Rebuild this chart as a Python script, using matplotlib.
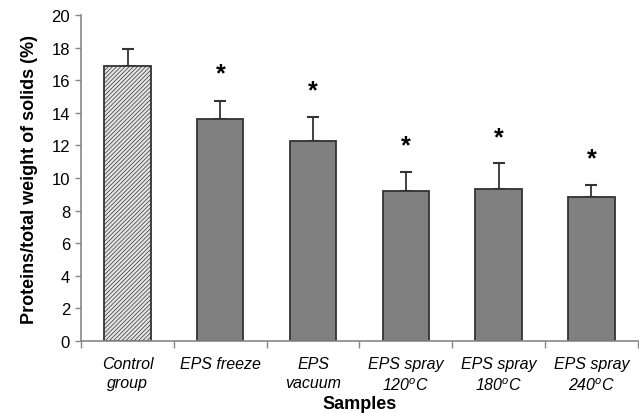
import matplotlib
matplotlib.use("Agg")
import matplotlib.pyplot as plt
import numpy as np

plt.rcParams['font.family'] = ['Liberation Sans', 'DejaVu Sans']
plt.rcParams['mathtext.fontset'] = 'custom'
plt.rcParams['mathtext.it'] = 'Liberation Sans:italic'
plt.rcParams['mathtext.rm'] = 'Liberation Sans:italic'
plt.rcParams['hatch.color'] = '#a8a8a8'
plt.rcParams['hatch.linewidth'] = 0.5

categories = ['Control\ngroup', 'EPS freeze', 'EPS\nvacuum',
              'EPS spray\n120$^{o}$C', 'EPS spray\n180$^{o}$C', 'EPS spray\n240$^{o}$C']
values = [16.9, 13.65, 12.25, 9.2, 9.3, 8.85]
errors = [1.0, 1.05, 1.5, 1.15, 1.65, 0.7]
significant = [False, True, True, True, True, True]
star_y = [None, 16.4, 15.4, 12.0, 12.5, 11.2]

fig = plt.figure(figsize=(6.39, 4.14), dpi=100)
ax = fig.add_axes([0.127, 0.174, 0.871, 0.787])

x = np.arange(len(categories))
colors = ['#e4e4e4'] + ['#808080'] * 5
bars = ax.bar(x, values, width=0.5, color=colors, edgecolor='#333333', linewidth=1.3, zorder=2)
bars[0].set_hatch('////////')
ax.errorbar(x, values, yerr=[[0]*len(values), errors], fmt='none', ecolor='#333333',
            elinewidth=1.3, capsize=4, capthick=1.5, zorder=1)

for xi, s, sy in zip(x, significant, star_y):
    if s:
        ax.text(xi, sy, '*', ha='center', va='center', fontsize=18, fontweight='bold')

ax.set_xlim(-0.5, 5.5)
ax.set_ylim(0, 20)
ax.set_yticks(np.arange(0, 21, 2))
ax.set_xticks(x)
ax.set_xticklabels(categories, fontstyle='italic', fontsize=11.5, linespacing=1.35)
ax.tick_params(axis='x', length=0, pad=11)
ax.set_xticks(np.arange(-0.5, 6, 1), minor=True)
ax.tick_params(axis='x', which='minor', length=5, color='#888888', width=1)
ax.tick_params(axis='y', labelsize=12, length=4, color='#888888', width=1, pad=4)

for sp in ['top', 'right']:
    ax.spines[sp].set_visible(False)
for sp in ['left', 'bottom']:
    ax.spines[sp].set_color('#888888')
    ax.spines[sp].set_linewidth(1.2)

ax.set_ylabel('Proteins/total weight of solids (%)', fontsize=13, fontweight='bold', labelpad=10)
ax.set_xlabel('Samples', fontsize=13, fontweight='bold', labelpad=2)

fig.savefig('out.png', dpi=100)
